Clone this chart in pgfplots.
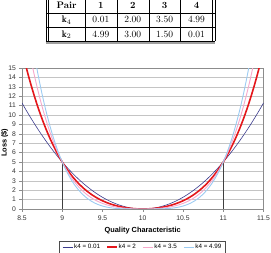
\documentclass[border=0pt]{standalone}
\usepackage{pgfplots}
\pgfplotsset{compat=1.18}
\usepackage{pgfplotstable}
\usepackage{array}
\usepackage{fontspec}
\newfontfamily\chartfont{Liberation Sans}

\definecolor{navyline}{HTML}{3A3A8C}
\definecolor{redline}{HTML}{E4161B}
\definecolor{pinkline}{HTML}{F7A8CB}
\definecolor{blueline}{HTML}{9CCBF2}
\definecolor{gridgray}{HTML}{C4C4C4}
\definecolor{axisgray}{HTML}{8C8C8C}

% coloured line sample set in front of each key entry
\newcommand\keyline[2]{\textcolor{#1}{\rule[\dimexpr0.52ex-#2/2\relax]{10bp}{#2}}\hspace{1.5bp}}

% Loss L = k2 (y-10)^2 + k4 (y-10)^4, tabulated every 0.05
\pgfplotstableread{
x L
8.50 11.2781
8.55 10.5357
8.60 9.8188
8.65 9.1275
8.70 8.4617
8.75 7.8213
8.80 7.2063
8.85 6.6168
8.90 6.0525
8.95 5.5136
9.00 5.0000
9.05 4.5116
9.10 4.0485
9.15 3.6105
9.20 3.1977
9.25 2.8100
9.30 2.4475
9.35 2.1101
9.40 1.7977
9.45 1.5104
9.50 1.2481
9.55 1.0109
9.60 0.7987
9.65 0.6114
9.70 0.4492
9.75 0.3119
9.80 0.1996
9.85 0.1123
9.90 0.0499
9.95 0.0125
10.00 0.0000
10.05 0.0125
10.10 0.0499
10.15 0.1123
10.20 0.1996
10.25 0.3119
10.30 0.4492
10.35 0.6114
10.40 0.7987
10.45 1.0109
10.50 1.2481
10.55 1.5104
10.60 1.7977
10.65 2.1101
10.70 2.4475
10.75 2.8100
10.80 3.1977
10.85 3.6105
10.90 4.0485
10.95 4.5116
11.00 5.0000
11.05 5.5136
11.10 6.0525
11.15 6.6168
11.20 7.2063
11.25 7.8213
11.30 8.4617
11.35 9.1275
11.40 9.8188
11.45 10.5357
11.50 11.2781
}\lossA

\pgfplotstableread{
x L
8.50 16.8750
8.55 15.1485
8.60 13.5632
8.65 12.1105
8.70 10.7822
8.75 9.5703
8.80 8.4672
8.85 7.4655
8.90 6.5582
8.95 5.7385
9.00 5.0000
9.05 4.3365
9.10 3.7422
9.15 3.2115
9.20 2.7392
9.25 2.3203
9.30 1.9502
9.35 1.6245
9.40 1.3392
9.45 1.0905
9.50 0.8750
9.55 0.6895
9.60 0.5312
9.65 0.3975
9.70 0.2862
9.75 0.1953
9.80 0.1232
9.85 0.0685
9.90 0.0302
9.95 0.0075
10.00 0.0000
10.05 0.0075
10.10 0.0302
10.15 0.0685
10.20 0.1232
10.25 0.1953
10.30 0.2862
10.35 0.3975
10.40 0.5312
10.45 0.6895
10.50 0.8750
10.55 1.0905
10.60 1.3392
10.65 1.6245
10.70 1.9502
10.75 2.3203
10.80 2.7392
10.85 3.2115
10.90 3.7422
10.95 4.3365
11.00 5.0000
11.05 5.7385
11.10 6.5582
11.15 7.4655
11.20 8.4672
11.25 9.5703
11.30 10.7822
11.35 12.1105
11.40 13.5632
11.45 15.1485
11.50 16.8750
}\lossB

\pgfplotstableread{
x L
8.55 18.6255
8.60 16.3856
8.65 14.3590
8.70 12.5314
8.75 10.8887
8.80 9.4176
8.85 8.1053
8.90 6.9394
8.95 5.9080
9.00 5.0000
9.05 4.2045
9.10 3.5114
9.15 2.9108
9.20 2.3936
9.25 1.9512
9.30 1.5754
9.35 1.2585
9.40 0.9936
9.45 0.7740
9.50 0.5938
9.55 0.4473
9.60 0.3296
9.65 0.2363
9.70 0.1635
9.75 0.1074
9.80 0.0656
9.85 0.0355
9.90 0.0154
9.95 0.0038
10.00 0.0000
10.05 0.0038
10.10 0.0154
10.15 0.0355
10.20 0.0656
10.25 0.1074
10.30 0.1635
10.35 0.2363
10.40 0.3296
10.45 0.4473
10.50 0.5938
10.55 0.7740
10.60 0.9936
10.65 1.2585
10.70 1.5754
10.75 1.9512
10.80 2.3936
10.85 2.9108
10.90 3.5114
10.95 4.2045
11.00 5.0000
11.05 5.9080
11.10 6.9394
11.15 8.1053
11.20 9.4176
11.25 10.8887
11.30 12.5314
11.35 14.3590
11.40 16.3856
11.45 18.6255
}\lossC

\pgfplotstableread{
x L
8.65 16.5925
8.70 14.2688
8.75 12.1982
8.80 10.3617
8.85 8.7408
8.90 7.3180
8.95 6.0764
9.00 5.0000
9.05 4.0734
9.10 3.2820
9.15 2.6120
9.20 2.0503
9.25 1.5845
9.30 1.2030
9.35 0.8950
9.40 0.6503
9.45 0.4596
9.50 0.3144
9.55 0.2066
9.60 0.1293
9.65 0.0761
9.70 0.0413
9.75 0.0201
9.80 0.0084
9.85 0.0028
9.90 0.0006
9.95 0.0001
10.00 0.0000
10.05 0.0001
10.10 0.0006
10.15 0.0028
10.20 0.0084
10.25 0.0201
10.30 0.0413
10.35 0.0761
10.40 0.1293
10.45 0.2066
10.50 0.3144
10.55 0.4596
10.60 0.6503
10.65 0.8950
10.70 1.2030
10.75 1.5845
10.80 2.0503
10.85 2.6120
10.90 3.2820
10.95 4.0734
11.00 5.0000
11.05 6.0764
11.10 7.3180
11.15 8.7408
11.20 10.3617
11.25 12.1982
11.30 14.2688
11.35 16.5925
}\lossD

\begin{document}
\begin{tikzpicture}
\useasboundingbox (0bp,0bp) rectangle (271bp,253bp);

% coefficient table
\node[anchor=north, inner sep=0pt] (tab) at (130.5bp,254.5bp) {%
  \fontsize{9.5}{11.5}\selectfont
  \renewcommand\arraystretch{1.2}%
  \setlength\tabcolsep{0pt}%
  \begin{tabular}{||>{\centering\arraybackslash}p{36bp}|*{4}{>{\centering\arraybackslash}p{31.5bp}|}|}
  \hline
  \textbf{Pair} & \textbf{1} & \textbf{2} & \textbf{3} & \textbf{4}\\
  \hline
  $\mathbf{k}_4$ & 0.01 & 2.00 & 3.50 & 4.99\\
  \hline
  $\mathbf{k}_2$ & 4.99 & 3.00 & 1.50 & 0.01\\
  \hline
  \end{tabular}};
\draw[gray!75, line width=2.6bp] ([yshift=-1.3bp]tab.south west) -- ([yshift=-1.3bp]tab.south east);
\draw[gray!75, line width=2.6bp] ([yshift=1.3bp]tab.north west) -- ([yshift=1.3bp]tab.north east);

\begin{axis}[
  at={(22bp,44bp)}, anchor=south west,
  width=241.5bp, height=141bp, scale only axis,
  xmin=8.5, xmax=11.5, ymin=0, ymax=15,
  xtick={8.5,9,9.5,10,10.5,11,11.5},
  xticklabels={8.5,9,9.5,10,10.5,11,11.5},
  ytick={0,1,...,15},
  tick pos=left, tick align=outside,
  major tick length=3bp,
  tick style={axisgray, line width=0.5bp},
  axis line style={axisgray, line width=0.6bp},
  ymajorgrids, grid style={gridgray, line width=0.6bp},
  /pgf/number format/assume math mode=true,
  ticklabel style={font=\chartfont\fontsize{6.8}{7}\selectfont, text=black!80},
  yticklabel style={xshift=0.5bp},
  xticklabel style={yshift=-0.5bp},
  xlabel={\textbf{Quality Characteristic}},
  ylabel={\textbf{Loss (\$)}},
  label style={font=\chartfont\fontsize{7.4}{8}\selectfont},
  xlabel style={at={(axis description cs:0.5,-0.152)}, anchor=center},
  ylabel style={at={(axis description cs:-0.072,0.47)}, anchor=center},
  legend columns=4,
  legend image code/.code={},
  legend style={at={(0.497,-0.227)}, anchor=north, name=keybox,
    font=\chartfont\fontsize{6.3}{7}\selectfont,
    draw=none, fill=white, inner sep=1.2bp,
    /tikz/every odd column/.append style={column sep=0bp},
    /tikz/every even column/.append style={column sep=3bp}},
  clip=true,
]
\addplot[draw=black!75, line width=0.6bp, forget plot] coordinates {(9,0) (9,5)};
\addplot[draw=black!75, line width=0.6bp, forget plot] coordinates {(11,0) (11,5)};
\addplot[draw=navyline, line width=0.6bp, smooth] table[x=x,y=L] {\lossA};
\addlegendentry{\keyline{navyline}{0.7bp}k4 = 0.01}
\addplot[draw=redline, line width=1.6bp, smooth] table[x=x,y=L] {\lossB};
\addlegendentry{\keyline{redline}{1.8bp}k4 = 2}
\addplot[draw=pinkline, line width=0.9bp, smooth] table[x=x,y=L] {\lossC};
\addlegendentry{\keyline{pinkline}{1bp}k4 = 3.5}
\addplot[draw=blueline, line width=0.9bp, smooth] table[x=x,y=L] {\lossD};
\addlegendentry{\keyline{blueline}{1bp}k4 = 4.99}
\end{axis}
% frame round the key
\draw[black!70, line width=0.5bp] (keybox.south west) rectangle (keybox.north east);
\end{tikzpicture}
\end{document}
